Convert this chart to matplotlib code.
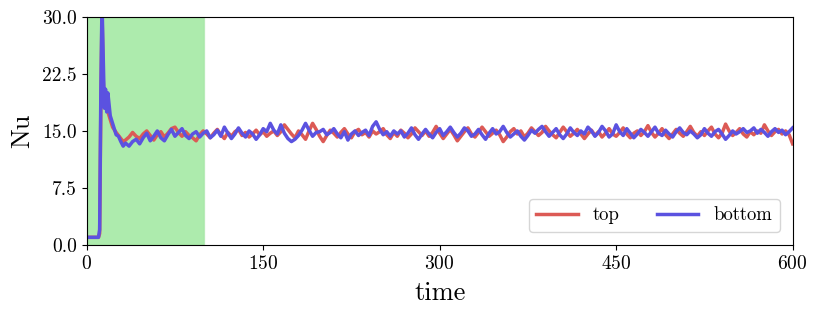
import matplotlib
matplotlib.use("Agg")
import matplotlib.pyplot as plt
import numpy as np

plt.rcParams['font.family'] = 'serif'
plt.rcParams['font.serif'] = ['cmr10']
plt.rcParams['mathtext.fontset'] = 'cm'
plt.rcParams['axes.formatter.use_mathtext'] = True

# start-up transient
t_early = [0, 5, 10, 11, 12, 13, 14, 15, 16, 17, 18, 20, 22, 25, 27, 29, 31]
bottom_early = [1.0, 1.0, 1.0, 2.0, 20.0, 32.0, 25.0, 18.0, 20.5, 17.5, 20.0,
                17.0, 16.0, 14.5, 14.3, 13.6, 13.0]
top_early = [1.0, 1.0, 1.0, 1.5, 18.0, 31.0, 22.0, 18.5, 19.0, 18.0, 17.5,
             16.5, 15.5, 14.8, 14.4, 14.0, 13.6]

# statistically steady part, sampled every 3 time units from t=33
bottom_late = [
    13.4, 13.0, 13.6, 13.9, 13.3, 14.1, 14.7, 13.7, 14.3, 15.0,
    14.1, 13.7, 14.5, 15.2, 14.3, 14.8, 15.3, 14.4, 14.0, 14.6,
    14.9, 14.2, 14.7, 15.0, 14.1, 14.5, 15.1, 14.3, 15.5, 14.7,
    14.0, 14.6, 15.4, 14.7, 14.2, 15.0, 14.6, 13.9, 14.5, 15.3,
    14.9, 16.0, 15.1, 14.6, 15.8, 14.7, 14.0, 13.6, 13.9, 14.4,
    15.1, 16.0, 15.1, 14.3, 14.8, 14.9, 15.2, 14.5, 14.8, 15.3,
    14.6, 14.1, 14.9, 13.8, 14.6, 15.0, 14.4, 14.8, 15.1, 14.4,
    15.6, 16.2, 15.2, 14.5, 14.9, 14.3, 15.0, 14.6, 15.0, 14.2,
    14.7, 15.4, 14.5, 13.9, 14.6, 15.2, 14.6, 14.1, 14.8, 15.3,
    14.4, 14.9, 15.5, 14.8, 14.2, 14.7, 15.4, 15.0, 14.3, 14.6,
    15.2, 14.5, 13.9, 14.7, 15.3, 14.6, 14.9, 15.6, 14.8, 14.2,
    14.6, 15.0, 14.3, 13.8, 14.4, 15.1, 14.7, 15.2, 15.6, 14.9,
    14.3, 14.8, 15.3, 14.5, 14.0, 14.6, 15.4, 14.8, 14.4, 15.0,
    14.6, 15.5, 15.0, 14.3, 14.8, 15.6, 15.0, 14.2, 14.6, 15.8,
    14.9, 14.4, 15.3, 14.7, 14.1, 14.6, 15.2, 14.8, 14.3, 14.9,
    15.5, 14.7, 14.4, 15.1, 14.6, 14.2, 14.9, 15.4, 14.8, 14.5,
    15.0, 14.6, 14.1, 14.5, 15.3, 14.7, 14.3, 14.9, 15.2, 14.6,
    13.9, 14.4, 15.0, 14.6, 14.9, 15.3, 14.8, 15.0, 15.4, 14.7,
    15.2, 14.8, 14.3, 14.9, 15.3, 14.8, 15.1, 14.5, 14.9, 15.4,
]
top_late = [
    13.8, 14.2, 14.8, 14.3, 14.0, 14.6, 15.0, 14.4, 13.8, 14.5,
    14.9, 14.2, 14.7, 15.3, 15.5, 14.8, 14.3, 14.9, 14.4, 14.1,
    13.7, 14.5, 15.0, 14.6, 14.1, 14.7, 15.2, 14.5, 14.0, 14.8,
    14.3, 14.9, 15.2, 14.4, 14.8, 14.2, 14.6, 15.1, 14.5, 14.9,
    14.3, 14.7, 15.0, 14.4, 14.9, 15.8, 15.2, 14.6, 14.1, 15.0,
    14.5, 13.9, 15.0, 16.0, 15.2, 14.3, 13.6, 14.4, 15.1, 14.7,
    14.2, 14.8, 15.3, 14.6, 14.1, 14.9, 15.2, 14.5, 14.8, 14.2,
    15.0, 14.6, 14.9, 15.3, 14.5, 14.0, 14.8, 14.3, 15.1, 14.7,
    14.1, 14.6, 15.4, 14.9, 14.4, 15.0, 14.3, 14.8, 15.6, 14.7,
    14.0, 14.6, 15.2, 14.5, 13.7, 14.3, 14.9, 15.4, 14.6, 14.2,
    14.8, 15.5, 14.9, 14.3, 14.7, 15.1, 14.5, 13.6, 14.2, 14.9,
    15.3, 14.6, 15.0, 14.2, 14.7, 15.4, 14.9, 14.4, 14.8, 15.6,
    15.0, 14.5, 14.1, 14.8, 15.5, 14.9, 14.3, 14.7, 15.2, 14.6,
    14.0, 14.6, 15.1, 14.4, 14.9, 14.2, 14.7, 15.3, 14.6, 14.3,
    14.8, 15.4, 14.6, 14.1, 14.7, 15.0, 14.4, 14.9, 15.7, 14.8,
    14.2, 14.7, 15.3, 14.5, 14.0, 14.6, 15.2, 14.7, 14.3, 14.9,
    15.6, 14.8, 14.3, 14.9, 14.4, 15.0, 15.5, 14.6, 14.1, 14.7,
    15.9, 15.0, 14.4, 14.8, 15.3, 14.6, 14.2, 14.9, 14.5, 15.0,
    14.7, 15.8, 15.0, 14.4, 14.9, 15.2, 14.6, 15.0, 14.5, 13.3,
]
t_late = np.arange(33, 601, 3)

time = np.concatenate([t_early, t_late])
top = np.concatenate([top_early, top_late])
bottom = np.concatenate([bottom_early, bottom_late])

fig = plt.figure(figsize=(8.18, 3.14), dpi=100)
ax = fig.add_axes([0.106, 0.22, 0.863, 0.726])

ax.axvspan(0, 100, facecolor='limegreen', edgecolor='#8fdc8f', alpha=0.4, lw=1)
ax.plot(time, top, color='#dc5a55', lw=2.5, label='top')
ax.plot(time, bottom, color='#5b52e0', lw=2.5, label='bottom')

ax.set_xlim(0, 600)
ax.set_ylim(0, 30)
ax.set_xticks([0, 150, 300, 450, 600])
ax.set_yticks([0, 7.5, 15, 22.5, 30])
ax.set_yticklabels(['0.0', '7.5', '15.0', '22.5', '30.0'])
ax.tick_params(labelsize=14)
ax.set_xlabel('time', fontsize=19, labelpad=6)
ax.set_ylabel('Nu', fontsize=19, labelpad=6)
ax.legend(loc='lower right', ncol=2, fontsize=13.5, columnspacing=2.0,
          handlelength=2.2, borderaxespad=0.7)

fig.savefig('out.png', dpi=100)
